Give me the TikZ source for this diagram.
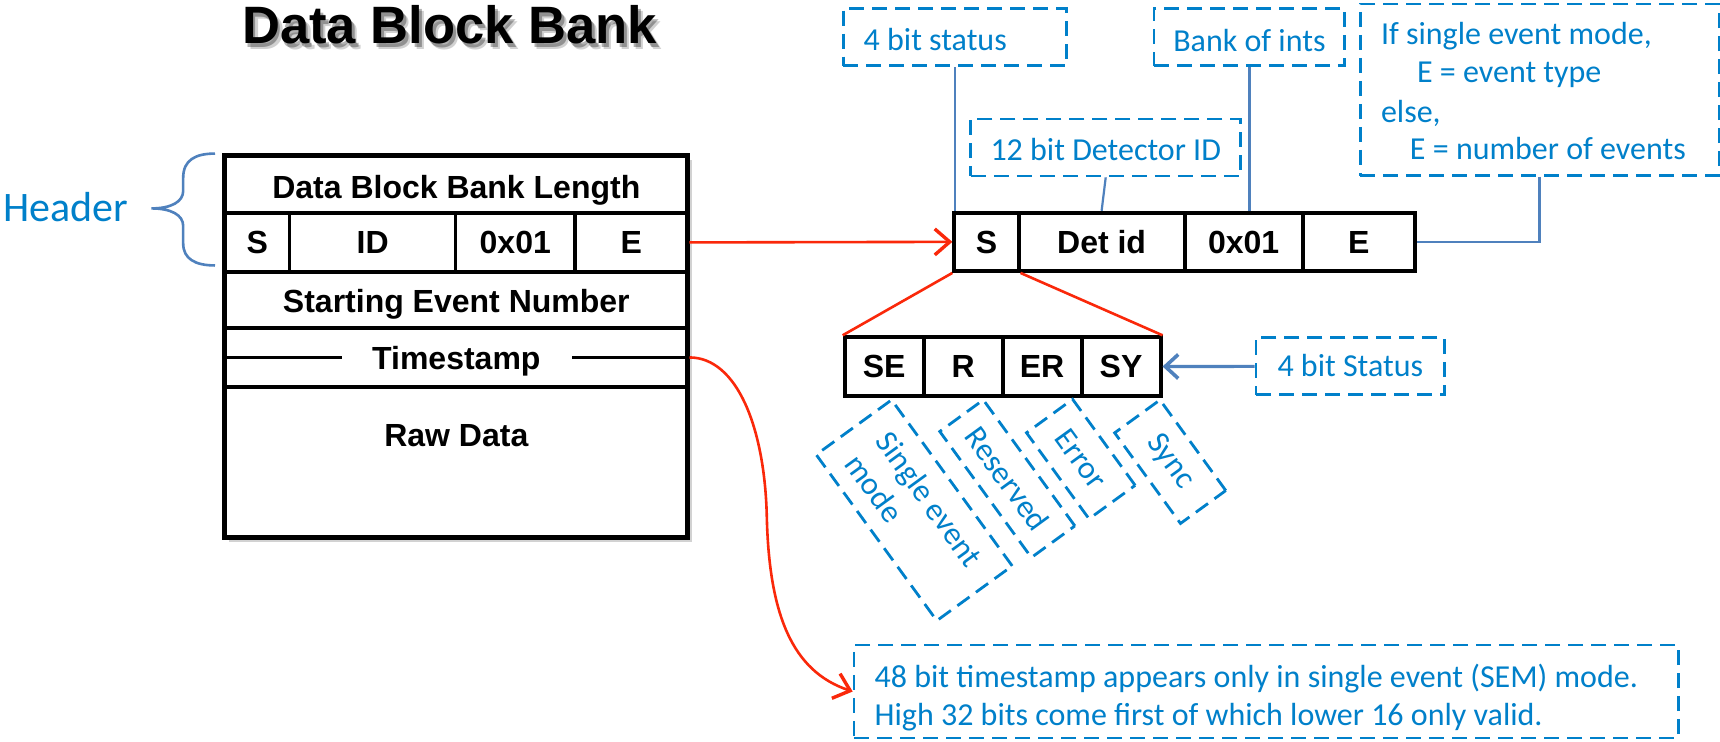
\documentclass[tikz,border=0pt]{standalone}
\usepackage{fontspec}
\setmainfont{Liberation Sans}
\newfontfamily\calfont{Carlito}
\usetikzlibrary{arrows.meta,fit,shadows}
\definecolor{lblue}{RGB}{0,128,202}
\definecolor{steel}{RGB}{79,129,189}
\definecolor{rred}{RGB}{250,40,10}
\begin{document}
\begin{tikzpicture}[x=0.5485pt,y=-0.5485pt,
  cellb/.style={draw=black, line width=1.7pt, inner sep=0pt},
  btext/.style={font=\bfseries\fontsize{16}{19}\selectfont, text height=11.4pt, text depth=0pt, inner sep=0pt},
  lbl/.style={draw=lblue, line width=1.4pt, dash pattern=on 7.5pt off 4pt, inner sep=0pt},
  ctext/.style={text=lblue, font=\calfont\fontsize{16}{19}\selectfont, inner sep=0pt, text height=10.3pt, text depth=0pt},
  ltext/.style={text=lblue, font=\calfont\fontsize{16}{19}\selectfont, inner sep=0pt, anchor=base west},
  rot/.style={draw=lblue, line width=1.4pt, dash pattern=on 7.5pt off 4pt, inner sep=0pt,
    text=lblue, font=\calfont\fontsize{16}{19}\selectfont, rotate=-54, align=left},
  link/.style={draw=steel, line width=1.1pt},
  rline/.style={draw=rred, line width=1.3pt},
  rtip/.style={-{Straight Barb[length=7.5pt,width=13pt,line width=1.7pt]}},
  btip/.style={-{Straight Barb[length=6.5pt,width=12pt,line width=1.8pt]}}
]
\useasboundingbox (0,0) rectangle (1568,676.4);
\fill[white] (0,0) rectangle (1568,676.4);

% title with shadow
\node[font=\bfseries\fontsize{26.3}{30}\selectfont, anchor=base, text=black, opacity=0.18] (titles2) at (414.5,45) {Data Block Bank};
\node[font=\bfseries\fontsize{26.3}{30}\selectfont, anchor=base, text=black, opacity=0.3] (titles1) at (412.5,43) {Data Block Bank};
\node[font=\bfseries\fontsize{26.3}{30}\selectfont, anchor=base] (title) at (410,40) {Data Block Bank};

% header brace
\node[font=\calfont\fontsize{21}{25}\selectfont, text=lblue, anchor=base, inner sep=0pt] (hdr) at (60,202) {Header};
\draw[draw=steel, line width=1.3pt] (196,140) .. controls (178,140) and (167,146) .. (167,162) -- (167,174)
  .. controls (167,184) and (156,190) .. (138,190) .. controls (156,190) and (167,196) .. (167,206)
  -- (167,222) .. controls (167,236) and (178,242) .. (196,242);

% data block bank
\node[fit={(205,142)(627,490)}, inner sep=0pt, fill=white,
  drop shadow={shadow xshift=2pt, shadow yshift=-2pt, opacity=0.35}] (blockbg) {};
\node[cellb, fit={(205,142)(627,194)}] (dbl) {};
\node[cellb, fit={(205,194)(264,248)}] (s1) {};
\node[cellb, fit={(264,194)(415.5,248)}] (id1) {};
\node[cellb, fit={(415.5,194)(524,248)}] (hex1) {};
\node[cellb, fit={(524,194)(627,248)}] (e1) {};
\node[cellb, fit={(205,248)(627,299)}] (sen) {};
\node[cellb, fit={(205,299)(627,352.7)}] (ts) {};
\node[cellb, fit={(205,352.7)(627,490)}] (raw) {};
\node[btext] (dblt) at ([yshift=-1.5pt]dbl.center) {Data Block Bank Length};
\node[btext] (s1t) at (s1.center) {S};
\node[btext] (id1t) at (id1.center) {ID};
\node[btext] (hex1t) at (hex1.center) {0x01};
\node[btext] (e1t) at (e1.center) {E};
\node[btext] (sent) at ([yshift=-0.5pt]sen.center) {Starting Event Number};
\node[btext] (tst) at ([yshift=-0.5pt]ts.center) {Timestamp};
\node[btext] (rawt) at (416,397) {Raw Data};
\draw[black, line width=1.7pt] (ts.west) -- ++(108,0);
\draw[black, line width=1.7pt] (ts.east) -- ++(-107,0);
\node[fit={(205,142)(627,490)}, inner sep=0pt, draw=black, line width=2.5pt] (block) {};

% right record
\node[cellb, line width=2pt, fit={(870,194)(928.5,247)}] (rs) {};
\node[cellb, line width=2pt, fit={(928.5,194)(1080,247)}] (rdet) {};
\node[cellb, line width=2pt, fit={(1080,194)(1187.5,247)}] (rhex) {};
\node[cellb, line width=2pt, fit={(1187.5,194)(1290,247)}] (re) {};
\node[btext] (rst) at (rs.center) {S};
\node[btext] (rdett) at (rdet.center) {Det id};
\node[btext] (rhext) at (rhex.center) {0x01};
\node[btext] (ret) at (re.center) {E};

% status bits
\node[cellb, line width=2pt, fit={(770,307.5)(842,360.7)}] (se) {};
\node[cellb, line width=2pt, fit={(842,307.5)(914,360.7)}] (rr) {};
\node[cellb, line width=2pt, fit={(914,307.5)(986,360.7)}] (er) {};
\node[cellb, line width=2pt, fit={(986,307.5)(1058,360.7)}] (sy) {};
\node[btext] (set) at (se.center) {SE};
\node[btext] (rrt) at (rr.center) {R};
\node[btext] (ert) at (er.center) {ER};
\node[btext] (syt) at (sy.center) {SY};

% dashed labels
\node[lbl, fit={(768.6,7.6)(972,60)}] (st4) {};
\node[ltext] (st4t) at (787,46) {4 bit status};
\node[lbl, fit={(1052,7.6)(1226,60)}] (bank) {};
\node[ctext] (bankt) at ([yshift=-2pt]bank.center) {Bank of ints};
\node[lbl, fit={(885,108.5)(1131,160.4)}] (det12) {};
\node[ctext] (det12t) at ([yshift=-1.3pt]det12.center) {12 bit Detector ID};
\node[lbl, fit={(1240,3.6)(1567,160)}] (enote) {};
\node[ltext] (en1) at (1258.6,41) {If single event mode,};
\node[ltext] (en2) at (1291.5,75) {E = event type};
\node[ltext] (en3) at (1258.6,112) {else,};
\node[ltext] (en4) at (1285,145) {E = number of events};
\node[lbl, fit={(1145,308)(1317,360)}] (st4b) {};
\node[ctext] (st4bt) at (st4b.center) {4 bit Status};
\node[lbl, fit={(778.6,588)(1529.8,672.8)}] (n48) {};
\node[ltext] (n48a) at (797,627) {48 bit timestamp appears only in single event (SEM) mode.};
\node[ltext] (n48b) at (797,661) {High 32 bits come first of which lower 16 only valid.};

% rotated labels
\node[rot, minimum width=102.6pt, minimum height=46.6pt] (lse) at (833.4,465.2) {Single event\\mode};
\node[rot, minimum width=77.9pt, minimum height=26.9pt] (lr) at (918.3,436.4) {Reserved};
\node[rot, minimum width=53.2pt, minimum height=28.5pt] (ler) at (985.3,418.5) {Error};
\node[rot, minimum width=56pt, minimum height=28pt] (lsy) at (1066.8,420.9) {Sync};

% blue connectors
\draw[link] (st4.south) -- (st4.south |- rs.north);
\draw[link] (bank.south) -- (bank.south |- rhex.north);
\draw[link] (det12.south) -- (rdet.north);
\draw[link] (enote.south) |- (re.east);
\draw[link, line width=1.6pt, btip] (st4b.west) -- (sy.east);

% red connectors
\draw[rline, rtip] (e1.east) -- (rs.west);
\draw[rline] (rs.south west) -- (se.north west);
\draw[rline] (rs.south east) -- (sy.north east);
\draw[rline, rtip] (ts.east) .. controls (672,326) and (697,390) .. (699,470)
  .. controls (701,560) and (722,612) .. (n48.west);
\end{tikzpicture}
\end{document}
